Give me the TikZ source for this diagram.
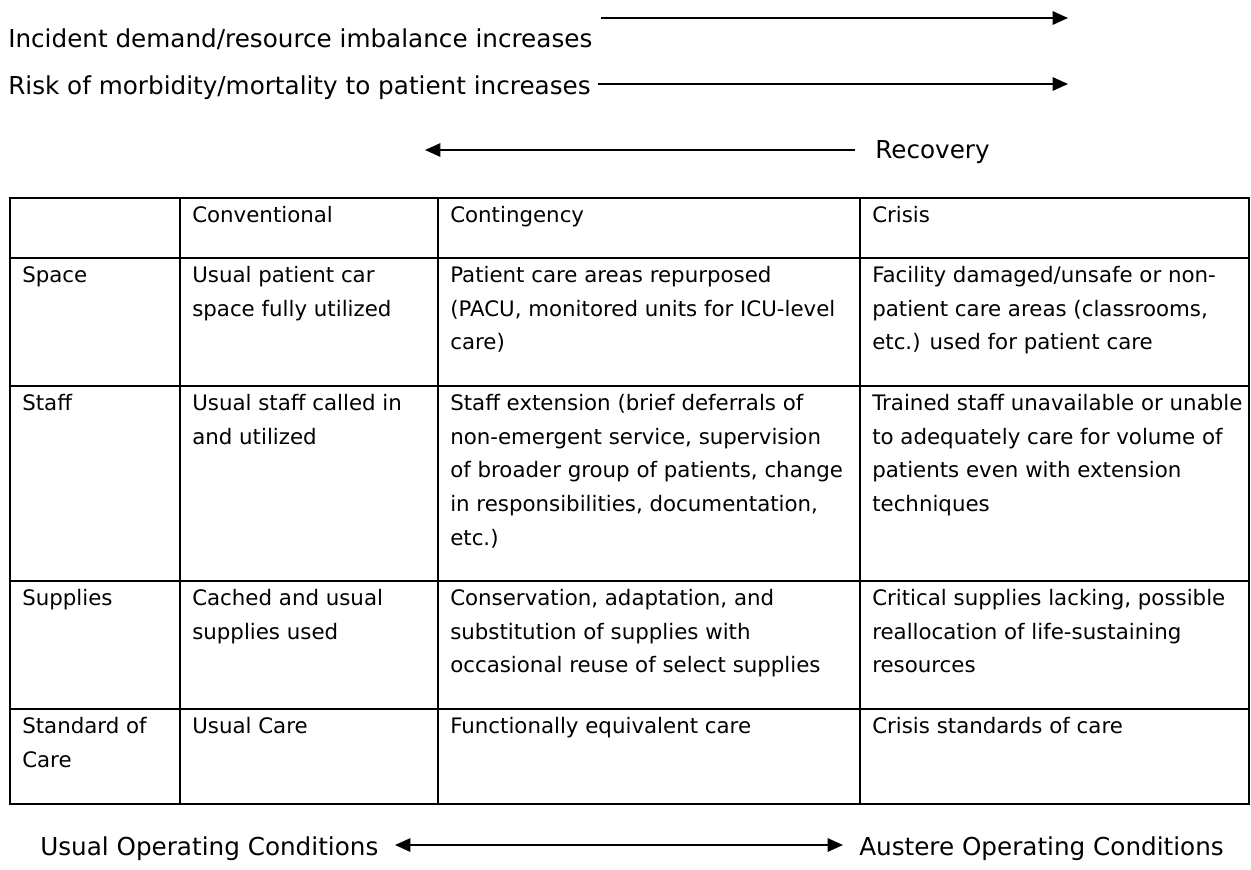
\documentclass[tikz,border=0pt]{standalone}
\usepackage{fontspec}
\setmainfont{DejaVu Sans}
\usetikzlibrary{arrows.meta}
\begin{document}
\begin{tikzpicture}[x=0.75pt,y=-0.75pt,
  big/.style={font=\fontsize{18.5}{22}\selectfont, inner sep=0pt, anchor=base west},
  cell/.style={font=\fontsize{16}{25.3}\selectfont, inner sep=0pt, anchor=north west, align=left},
  grid/.style={line width=1.5pt},
  arr/.style={line width=1.4pt, -{Triangle[length=11.5pt,width=10pt]}},
  darr/.style={line width=1.4pt, {Triangle[length=11.5pt,width=10pt]}-{Triangle[length=11.5pt,width=10pt]}}]
\useasboundingbox (0,0) rectangle (1251,869);

% top labels and arrows
\node[big] (inc) at (8,47) {Incident demand/resource imbalance increases};
\node[big] (risk) at (8,94) {Risk of morbidity/mortality to patient increases};
\node[big] (rec) at (875,158) {Recovery};
\coordinate (a1s) at (601,18);
\coordinate (a1e) at (1068,18);
\coordinate (a2s) at (598,84);
\coordinate (a2e) at (1068,84);
\coordinate (rs) at (855,150);
\coordinate (re) at (425,150);
\draw[arr] (a1s) -- (a1e);
\draw[arr] (a2s) -- (a2e);
\draw[arr] (rs) -- (re);

% table grid
\draw[grid] (10,198) rectangle (1249,804);
\foreach \yy in {258,386,581,709} \draw[grid] (10,\yy) -- (1249,\yy);
\foreach \xx in {180,438,860} \draw[grid] (\xx,198) -- (\xx,804);

% header row
\node[cell] (h1) at (192,198.5) {\strut Conventional};
\node[cell] (h2) at (450,198.5) {\strut Contingency};
\node[cell] (h3) at (872,198.5) {\strut Crisis};

% space row
\node[cell] (s0) at (22,258.5) {\strut Space};
\node[cell] (s1) at (192,258.5) {\strut Usual patient car\\space fully utilized};
\node[cell] (s2) at (450,258.5) {\strut Patient care areas repurposed\\(PACU, monitored units for ICU-level\\care)};
\node[cell] (s3) at (872,258.5) {\strut Facility damaged/unsafe or non-\\patient care areas (classrooms,\\etc.) used for patient care};

% staff row
\node[cell] (t0) at (22,386.5) {\strut Staff};
\node[cell] (t1) at (192,386.5) {\strut Usual staff called in\\and utilized};
\node[cell] (t2) at (450,386.5) {\strut Staff extension (brief deferrals of\\non-emergent service, supervision\\of broader group of patients, change\\in responsibilities, documentation,\\etc.)};
\node[cell] (t3) at (872,386.5) {\strut Trained staff unavailable or unable\\to adequately care for volume of\\patients even with extension\\techniques};

% supplies row
\node[cell] (u0) at (22,581.5) {\strut Supplies};
\node[cell] (u1) at (192,581.5) {\strut Cached and usual\\supplies used};
\node[cell] (u2) at (450,581.5) {\strut Conservation, adaptation, and\\substitution of supplies with\\occasional reuse of select supplies};
\node[cell] (u3) at (872,581.5) {\strut Critical supplies lacking, possible\\reallocation of life-sustaining\\resources};

% standard of care row
\node[cell] (c0) at (22,709.5) {\strut Standard of\\Care};
\node[cell] (c1) at (192,709.5) {\strut Usual Care};
\node[cell] (c2) at (450,709.5) {\strut Functionally equivalent care};
\node[cell] (c3) at (872,709.5) {\strut Crisis standards of care};

% bottom
\node[big] (usual) at (40,855) {Usual Operating Conditions};
\node[big] (aust) at (859,855) {Austere Operating Conditions};
\coordinate (bl) at (395,845);
\coordinate (br) at (843,845);
\draw[darr] (bl) -- (br);
\end{tikzpicture}
\end{document}
